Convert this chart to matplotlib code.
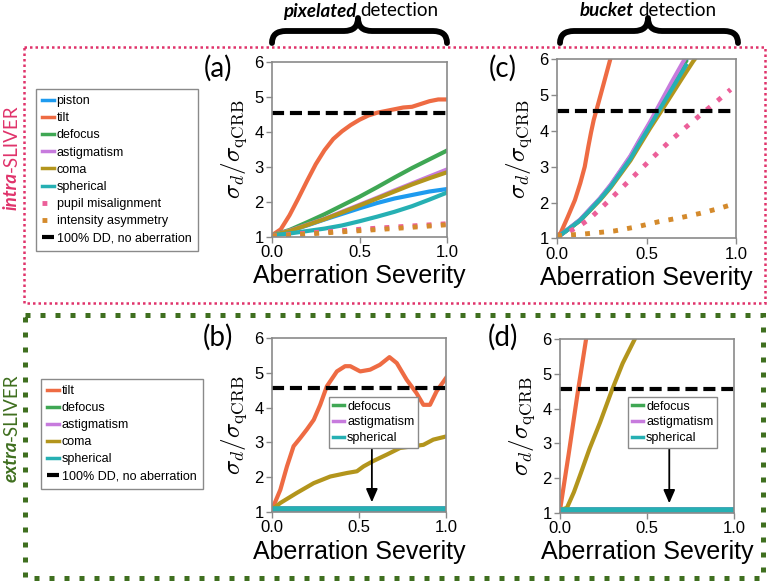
import numpy as np
import matplotlib
matplotlib.use("Agg")
from matplotlib import pyplot as plt
from matplotlib.patches import Rectangle, PathPatch
from matplotlib.path import Path
from matplotlib.transforms import Affine2D

plt.rcParams['font.family'] = ['Liberation Sans', 'DejaVu Sans']
plt.rcParams['mathtext.fontset'] = 'cm'

# ---- data ----
# (a) intra-SLIVER, pixelated detection
sev_a = [0, .05, .1, .15, .2, .25, .3, .35, .4, .45, .5, .55, .6, .65, .7, .75, .8, .85, .9, .95, 1.0]
tilt_a = [1.05, 1.22, 1.62, 2.1, 2.6, 3.08, 3.48, 3.8, 4.02, 4.2, 4.35, 4.47, 4.55, 4.6, 4.65, 4.7, 4.72, 4.8, 4.88, 4.93, 4.93]
sev_a2 = [0, .1, .2, .3, .4, .5, .6, .7, .8, .9, 1.0]
defocus_a = [1.05, 1.2, 1.42, 1.65, 1.9, 2.15, 2.42, 2.7, 2.97, 3.22, 3.47]
astig_a = [1.05, 1.18, 1.35, 1.52, 1.72, 1.92, 2.12, 2.33, 2.53, 2.73, 2.93]
coma_a = [1.05, 1.17, 1.34, 1.51, 1.7, 1.9, 2.1, 2.3, 2.5, 2.68, 2.85]
piston_a = [1.05, 1.17, 1.33, 1.5, 1.66, 1.82, 1.97, 2.1, 2.2, 2.3, 2.37]
spherical_a = [1.05, 1.1, 1.17, 1.24, 1.33, 1.45, 1.58, 1.72, 1.88, 2.07, 2.27]
sev_a3 = [0, .25, .5, .75, 1.0]
pupil_a = [1.03, 1.13, 1.22, 1.3, 1.38]
intensity_a = [1.03, 1.1, 1.18, 1.26, 1.35]

# (c) intra-SLIVER, bucket detection
sev_c_tilt = [0, .02, .06, .1, .13, .155, .175, .19, .205, .23, .26, .298]
tilt_c = [1.08, 1.15, 1.6, 2.07, 2.54, 3.0, 3.56, 3.95, 4.3, 4.75, 5.3, 6.0]
sev_c = [0, .02, .07, .13, .18, .24, .3, .35, .41, .46, .52, .58, .64, .7, .72]
astig_c = [1.05, 1.1, 1.29, 1.53, 1.8, 2.12, 2.5, 2.86, 3.3, 3.74, 4.25, 4.8, 5.35, 5.88, 6.05]
piston_c = [1.05, 1.1, 1.29, 1.52, 1.79, 2.11, 2.48, 2.84, 3.27, 3.71, 4.21, 4.75, 5.28, 5.8, 5.97]
defocus_c = [1.05, 1.1, 1.28, 1.52, 1.78, 2.1, 2.47, 2.83, 3.26, 3.7, 4.2, 4.73, 5.25, 5.76, 5.93]
spherical_c = [1.05, 1.1, 1.28, 1.51, 1.77, 2.09, 2.45, 2.8, 3.22, 3.65, 4.14, 4.65, 5.15, 5.65, 5.82]
sev_c_coma = [0, .02, .07, .13, .18, .24, .3, .35, .41, .46, .52, .58, .64, .7, .76, .8]
coma_c = [1.05, 1.1, 1.28, 1.5, 1.76, 2.07, 2.42, 2.76, 3.17, 3.58, 4.07, 4.53, 5.0, 5.47, 5.93, 6.2]
sev_c_pupil = [0, .05, .12, .18, .27, .36, .45, .54, .63, .72, .81, .9, .97]
pupil_c = [1.05, 1.15, 1.33, 1.54, 1.96, 2.4, 2.84, 3.28, 3.71, 4.1, 4.48, 4.85, 5.15]
sev_c_int = [0, .14, .2, .32, .45, .57, .69, .8, .9, 1.0]
intensity_c = [1.08, 1.12, 1.15, 1.21, 1.33, 1.47, 1.58, 1.7, 1.83, 1.98]

# (b) extra-SLIVER, pixelated detection
sev_b = [0, .048, .086, .124, .163, .2, .24, .277, .315, .373, .42, .45, .507, .564, .62, .675, .717, .774, .83, .87, .908, .946, 1.0]
tilt_b = [1.07, 1.64, 2.31, 2.89, 3.13, 3.37, 3.65, 4.08, 4.61, 5.04, 5.19, 5.19, 5.04, 5.09, 5.23, 5.45, 5.28, 4.8, 4.42, 4.08, 4.08, 4.47, 4.85]
sev_b_coma = [0, .048, .143, .24, .335, .43, .488, .526, .58, .66, .736, .81, .87, .927, 1.0]
coma_b = [1.07, 1.26, 1.55, 1.83, 2.02, 2.12, 2.17, 2.31, 2.46, 2.65, 2.84, 2.89, 2.93, 3.08, 3.17]
flat_sev = [0, 1.0]
flat_b = [1.08, 1.08]

# (d) extra-SLIVER, bucket detection
sev_d_tilt = [0, .05, .1, .15]
tilt_d = [1.08, 2.7, 4.4, 6.0]
sev_d_coma = [0, .04, .08, .12, .17, .23, .3, .36, .43]
coma_d = [1.08, 1.15, 1.6, 2.15, 2.85, 3.6, 4.55, 5.3, 6.0]
flat_d = [1.08, 1.08]

dd_level = 4.55

colors = {
    'piston': '#1e9bef', 'tilt': '#ee6b43', 'defocus': '#3fa754',
    'astigmatism': '#c77bdd', 'coma': '#b3951c', 'spherical': '#26b0b3',
    'pupil misalignment': '#ec5f99', 'intensity asymmetry': '#d48a2c',
}
LW = 3.0
DOT = dict(lw=3.5, ls=(0, (1, 1.9)), dash_capstyle='butt')
DASH = dict(color='black', lw=3.0, ls=(0, (2.9, 1.4)))

fig = plt.figure(figsize=(7.69, 5.84), dpi=100)
W, H = 769, 584
px = Affine2D().scale(1 / W, -1 / H).translate(0, 1) + fig.transFigure


def make_ax(x0, y0, x1, y1):
    ax = fig.add_axes([x0 / W, 1 - y1 / H, (x1 - x0) / W, (y1 - y0) / H])
    ax.set_xlim(0, 1)
    ax.set_ylim(1, 6)
    ax.set_xticks([0, 0.5, 1.0])
    ax.set_xticklabels(['0.0', '0.5', '1.0'])
    ax.set_yticks([1, 2, 3, 4, 5, 6])
    for s in ax.spines.values():
        s.set_color('#8a8a8a')
        s.set_linewidth(1.2)
    ax.tick_params(direction='out', length=4, width=1, color='#8a8a8a', labelsize=12, pad=2)
    ax.set_xlabel('Aberration Severity', fontsize=18, labelpad=3)
    ax.set_ylabel(r'$\sigma_d/\sigma_{\mathrm{qCRB}}$', fontsize=18, labelpad=4)
    return ax


ax_a = make_ax(272, 62, 447, 237)
ax_c = make_ax(557, 59, 736, 238.5)
ax_b = make_ax(272, 338, 446, 512)
ax_d = make_ax(560, 339, 734, 513)

# (a)
ha = []
ha += ax_a.plot(sev_a2, piston_a, color=colors['piston'], lw=LW, label='piston')
ha += ax_a.plot(sev_a, tilt_a, color=colors['tilt'], lw=LW, label='tilt')
ha += ax_a.plot(sev_a2, defocus_a, color=colors['defocus'], lw=LW, label='defocus')
ha += ax_a.plot(sev_a2, astig_a, color=colors['astigmatism'], lw=LW, label='astigmatism')
ha += ax_a.plot(sev_a2, coma_a, color=colors['coma'], lw=LW, label='coma')
ha += ax_a.plot(sev_a2, spherical_a, color=colors['spherical'], lw=LW, label='spherical')
ha += ax_a.plot(sev_a3, pupil_a, color=colors['pupil misalignment'], label='pupil misalignment', **DOT)
ha += ax_a.plot(sev_a3, intensity_a, color=colors['intensity asymmetry'], label='intensity asymmetry', **DOT)
ha += ax_a.plot(flat_sev, [dd_level, dd_level], label='100% DD, no aberration', **DASH)

# (c)
ax_c.plot(sev_c_tilt, tilt_c, color=colors['tilt'], lw=LW)
ax_c.plot(sev_c, piston_c, color=colors['piston'], lw=LW)
ax_c.plot(sev_c_coma, coma_c, color=colors['coma'], lw=LW)
ax_c.plot(sev_c, defocus_c, color=colors['defocus'], lw=LW)
ax_c.plot(sev_c, astig_c, color=colors['astigmatism'], lw=LW)
ax_c.plot(sev_c, spherical_c, color=colors['spherical'], lw=LW)
ax_c.plot(sev_c_pupil, pupil_c, color=colors['pupil misalignment'], **DOT)
ax_c.plot(sev_c_int, intensity_c, color=colors['intensity asymmetry'], **DOT)
ax_c.plot(flat_sev, [dd_level, dd_level], **DASH)

# (b)
hb = []
hb += ax_b.plot(sev_b, tilt_b, color=colors['tilt'], lw=LW, label='tilt')
fb = []
fb += ax_b.plot(flat_sev, flat_b, color=colors['defocus'], lw=4, label='defocus')
fb += ax_b.plot(flat_sev, flat_b, color=colors['astigmatism'], lw=4, label='astigmatism')
hb += ax_b.plot(sev_b_coma, coma_b, color=colors['coma'], lw=LW, label='coma')
fb += ax_b.plot(flat_sev, flat_b, color=colors['spherical'], lw=4, label='spherical')
hb += ax_b.plot(flat_sev, [dd_level, dd_level], label='100% DD, no aberration', **DASH)
hb = [hb[0], fb[0], fb[1], hb[1], fb[2], hb[2]]

# (d)
ax_d.plot(sev_d_tilt, tilt_d, color=colors['tilt'], lw=LW)
fd = []
fd += ax_d.plot(flat_sev, flat_d, color=colors['defocus'], lw=4, label='defocus')
fd += ax_d.plot(flat_sev, flat_d, color=colors['astigmatism'], lw=4, label='astigmatism')
ax_d.plot(sev_d_coma, coma_d, color=colors['coma'], lw=LW)
fd += ax_d.plot(flat_sev, flat_d, color=colors['spherical'], lw=4, label='spherical')
ax_d.plot(flat_sev, [dd_level, dd_level], **DASH)

leg_kw = dict(fancybox=False, edgecolor='#8a8a8a', framealpha=1, handlelength=0.9,
              handletextpad=0.25, borderaxespad=0)
legs = []
legs.append(fig.legend(handles=ha, loc='upper left', bbox_to_anchor=(36, 89), bbox_transform=px,
                       fontsize=9, labelspacing=0.41, borderpad=0.5, **leg_kw))
legs.append(fig.legend(handles=hb, loc='upper left', bbox_to_anchor=(41, 379), bbox_transform=px,
                       fontsize=9, labelspacing=0.4, borderpad=0.5, **leg_kw))
legs.append(ax_b.legend(handles=fb, loc='upper left', bbox_to_anchor=(329, 397), bbox_transform=px,
                        fontsize=9, labelspacing=0.3, borderpad=0.3, **leg_kw))
legs.append(ax_d.legend(handles=fd, loc='upper left', bbox_to_anchor=(628, 397), bbox_transform=px,
                        fontsize=9, labelspacing=0.3, borderpad=0.3, **leg_kw))
for leg in legs:
    for ln in leg.get_lines():
        if ln.get_linestyle() == '-':
            ln.set_linewidth(2.5)

arrow = dict(arrowstyle='-|>,head_width=0.35,head_length=0.8', color='black', lw=1.3)
ax_b.annotate('', xy=(0.574, 1.2), xytext=(0.574, 2.93), arrowprops=arrow)
ax_d.annotate('', xy=(0.628, 1.2), xytext=(0.628, 2.95), arrowprops=arrow)

# panel letters
for s, x, y in [('(a)', 218, 68), ('(c)', 503, 68), ('(b)', 218, 337), ('(d)', 503, 337)]:
    fig.text(x, y, s, transform=px, fontsize=20, family=['Lato', 'DejaVu Sans'],
             ha='center', va='center')

# column headings with braces
for word, split, xl, xc, xr in [('pixelated', 358, 272, 358, 447), ('bucket', 636, 560, 648, 738)]:
    fig.text(split - 2, 11, word, transform=px, fontsize=13.5, family=['Lato', 'DejaVu Sans'],
             fontweight='bold', style='italic', ha='right', va='center')
    fig.text(split + 2, 11, 'detection', transform=px, fontsize=13.5,
             family=['Lato', 'DejaVu Sans'], ha='left', va='center')
    yt, yb, yc, r = 43, 31, 18, 14
    verts = [(xl, yt), (xl, yb), (xl + r, yb), (xc - r, yb), (xc, yb), (xc, yc),
             (xc, yb), (xc + r, yb), (xr - r, yb), (xr, yb), (xr, yt)]
    codes = [Path.MOVETO, Path.CURVE3, Path.CURVE3, Path.LINETO, Path.CURVE3, Path.CURVE3,
             Path.CURVE3, Path.CURVE3, Path.LINETO, Path.CURVE3, Path.CURVE3]
    fig.add_artist(PathPatch(Path(verts, codes), transform=px, fill=False, lw=4.2,
                             edgecolor='black', capstyle='round', joinstyle='round'))

# dotted group boxes
red = '#e0336b'
green = '#3f6f1f'
fig.add_artist(Rectangle((24, 47), 741, 256, transform=px, fill=False, edgecolor=red,
                         lw=1.8, ls=(0, (1, 1.2)), capstyle='butt'))
fig.add_artist(Rectangle((25, 315), 738, 263, transform=px, fill=False, edgecolor=green,
                         lw=3.6, ls=(0, (1, 2)), capstyle='butt'))

# row labels
fig.text(11, 172, 'intra', transform=px, rotation=90, color=red, fontsize=13.5,
         fontweight='bold', style='italic', family=['Lato', 'DejaVu Sans'], ha='center', va='top')
fig.text(11, 172, '-SLIVER', transform=px, rotation=90, color=red, fontsize=13.5,
         family=['Lato', 'DejaVu Sans'], ha='center', va='bottom')
fig.text(11, 441, 'extra', transform=px, rotation=90, color=green, fontsize=13.5,
         fontweight='bold', style='italic', family=['Lato', 'DejaVu Sans'], ha='center', va='top')
fig.text(11, 441, '-SLIVER', transform=px, rotation=90, color=green, fontsize=13.5,
         family=['Lato', 'DejaVu Sans'], ha='center', va='bottom')

fig.savefig('out.png', dpi=100)
